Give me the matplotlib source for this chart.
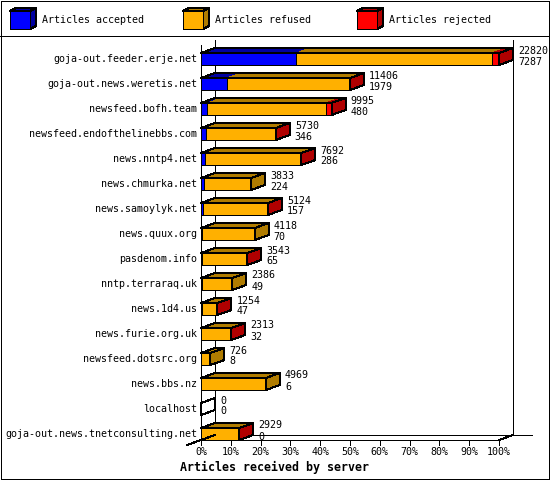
import matplotlib
matplotlib.use("Agg")
import matplotlib.pyplot as plt
from matplotlib.patches import Polygon, Rectangle

plt.rcParams["patch.antialiased"] = False
plt.rcParams["lines.antialiased"] = False

# ---------------- data ----------------
servers = [
    "goja-out.feeder.erje.net",
    "goja-out.news.weretis.net",
    "newsfeed.bofh.team",
    "newsfeed.endofthelinebbs.com",
    "news.nntp4.net",
    "news.chmurka.net",
    "news.samoylyk.net",
    "news.quux.org",
    "pasdenom.info",
    "nntp.terraraq.uk",
    "news.1d4.us",
    "news.furie.org.uk",
    "newsfeed.dotsrc.org",
    "news.bbs.nz",
    "localhost",
    "goja-out.news.tnetconsulting.net",
]
offered = [22820, 11406, 9995, 5730, 7692, 3833, 5124, 4118, 3543, 2386, 1254, 2313, 726, 4969, 0, 2929]
accepted = [7287, 1979, 480, 346, 286, 224, 157, 70, 65, 49, 47, 32, 8, 6, 0, 0]
rejected = [540, 100, 440, 20, 90, 0, 30, 0, 20, 0, 10, 15, 0, 0, 0, 10]
tick_values = [0, 10, 20, 30, 40, 50, 60, 70, 80, 90, 100]
tick_labels = ["0%", "10%", "20%", "30%", "40%", "50%", "60%", "70%", "80%", "90%", "100%"]
legend_labels = ["Articles accepted", "Articles refused", "Articles rejected"]
x_title = "Articles received by server"

front_colors = ["#0000ff", "#ffb000", "#ff0000"]
dark_colors = ["#0000a0", "#b07c00", "#b00000"]

MONO = "DejaVu Sans Mono"
FS = 7.2
LW = 0.72

W, H = 550, 480
fig = plt.figure(figsize=(W / 100, H / 100), dpi=100)
fig.patch.set_facecolor("white")

# overlay axes in pixel units for frame / legend / title
lax = fig.add_axes([0, 0, 1, 1])
lax.set_xlim(0, W)
lax.set_ylim(H, 0)
lax.axis("off")
lax.add_patch(Rectangle((0.5, 0.5), W - 1.5, H - 1.5, fill=False, ec="black", lw=LW))
lax.plot([0, W], [35.5, 35.5], color="black", lw=LW)

leg_x = [10, 183, 357]
for k, lab in enumerate(legend_labels):
    x0 = leg_x[k]
    y0, fw, fh, ddx, ddy = 11, 20, 18, 6, 3
    lax.add_patch(Polygon([(x0, y0), (x0 + fw, y0), (x0 + fw + ddx, y0 - ddy), (x0 + ddx, y0 - ddy)],
                          closed=True, fc=dark_colors[k], ec="black", lw=LW))
    lax.add_patch(Polygon([(x0 + fw, y0), (x0 + fw + ddx, y0 - ddy), (x0 + fw + ddx, y0 + fh - ddy), (x0 + fw, y0 + fh)],
                          closed=True, fc=dark_colors[k], ec="black", lw=LW))
    lax.add_patch(Rectangle((x0, y0), fw, fh, fc=front_colors[k], ec="black", lw=LW))
    lax.text(x0 + 32, 20, lab, fontsize=FS, family=MONO, va="center", ha="left")

lax.text(274, 467, x_title, fontsize=8.4, family=MONO, fontweight="bold", va="center", ha="center")

# ---------------- main plot axes ----------------
ax = fig.add_axes([201 / W, (H - 440) / H, 298 / W, 395 / H])
ax.set_zorder(2)
ax.patch.set_alpha(0)
row0_px, row_px = 59, 25
ax.set_xlim(0, 100)
ax.set_ylim((440 - row0_px) / row_px, (45 - row0_px) / row_px)
ax.axis("off")

px_x = 100 / 298.0
px_y = 1 / float(row_px)
dx = 14 * px_x
dy = 5 * px_y
half = 6 * px_y
y_floor = (440 - row0_px) / row_px
y_top_front = (45 - row0_px) / row_px
y_top_back = (40 - row0_px) / row_px

# back plane lines
ax.plot([dx, dx], [y_top_back, y_floor - dy], color="black", lw=LW, zorder=1, clip_on=False)
ax.plot([100 + dx, 100 + dx], [y_top_back, y_floor - dy], color="black", lw=LW, zorder=1, clip_on=False)
ax.plot([dx, 100 + dx + 19 * px_x], [y_floor - dy, y_floor - dy], color="black", lw=LW, zorder=1, clip_on=False)

# front vertical axis drawn as a 1-px filled strip
ax.add_patch(Rectangle((0, y_top_front), 1 * px_x, y_floor - y_top_front, fc="black", ec="none",
                       zorder=2, clip_on=False))

vmax = max(offered)
for i, name in enumerate(servers):
    tot = offered[i]
    acc = accepted[i]
    rej = rejected[i]
    ref = tot - acc - rej
    vals = [acc, ref, rej]
    widths = [v / vmax * 100 for v in vals]
    L = tot / vmax * 100
    top = i - half
    bot = i + half
    left = 0.0
    last_k = None
    for k, w in enumerate(widths):
        if w <= 0:
            continue
        last_k = k
        ax.add_patch(Polygon([(left, top), (left + w, top), (left + w + dx, top - dy), (left + dx, top - dy)],
                             closed=True, fc=dark_colors[k], ec="none", zorder=3, clip_on=False))
        ax.add_patch(Rectangle((left, top), w, 2 * half, fc=front_colors[k], ec="black", lw=LW, zorder=4, clip_on=False))
        left += w
    # top outline
    ax.add_patch(Polygon([(0, top), (L, top), (L + dx, top - dy), (dx, top - dy)],
                         closed=True, fill=False, ec="black", lw=LW, zorder=5, clip_on=False))
    # side face
    side_fc = dark_colors[last_k] if last_k is not None else "none"
    ax.add_patch(Polygon([(L, top), (L + dx, top - dy), (L + dx, bot - dy), (L, bot)],
                         closed=True, fc=side_fc, ec="black", lw=LW, zorder=5, clip_on=False))
    # numbers
    ax.text(L + 19 * px_x, i - 8.5 * px_y, str(tot), fontsize=FS, family=MONO, va="center", ha="left", zorder=6)
    ax.text(L + 19 * px_x, i + 2.5 * px_y, str(acc), fontsize=FS, family=MONO, va="center", ha="left", zorder=6)
    # category label
    ax.text(-4 * px_x, i, name, fontsize=FS, family=MONO, va="center", ha="right", zorder=6)

# front floor lines and ticks
ax.plot([0, 100], [y_floor, y_floor], color="black", lw=LW, zorder=7, clip_on=False)
ax.plot([100, 100 + dx], [y_floor, y_floor - dy], color="black", lw=LW, zorder=7, clip_on=False)
ax.plot([-dx, dx], [y_floor + dy, y_floor - dy], color="black", lw=LW, zorder=7, clip_on=False)
for t, lab in zip(tick_values, tick_labels):
    ax.plot([t, t], [y_floor, y_floor + 5 * px_y], color="black", lw=LW, zorder=7, clip_on=False)
    ax.text(t, (452 - row0_px) / row_px, lab, fontsize=FS, family=MONO, va="center", ha="center")

fig.savefig("out.png", dpi=100)
